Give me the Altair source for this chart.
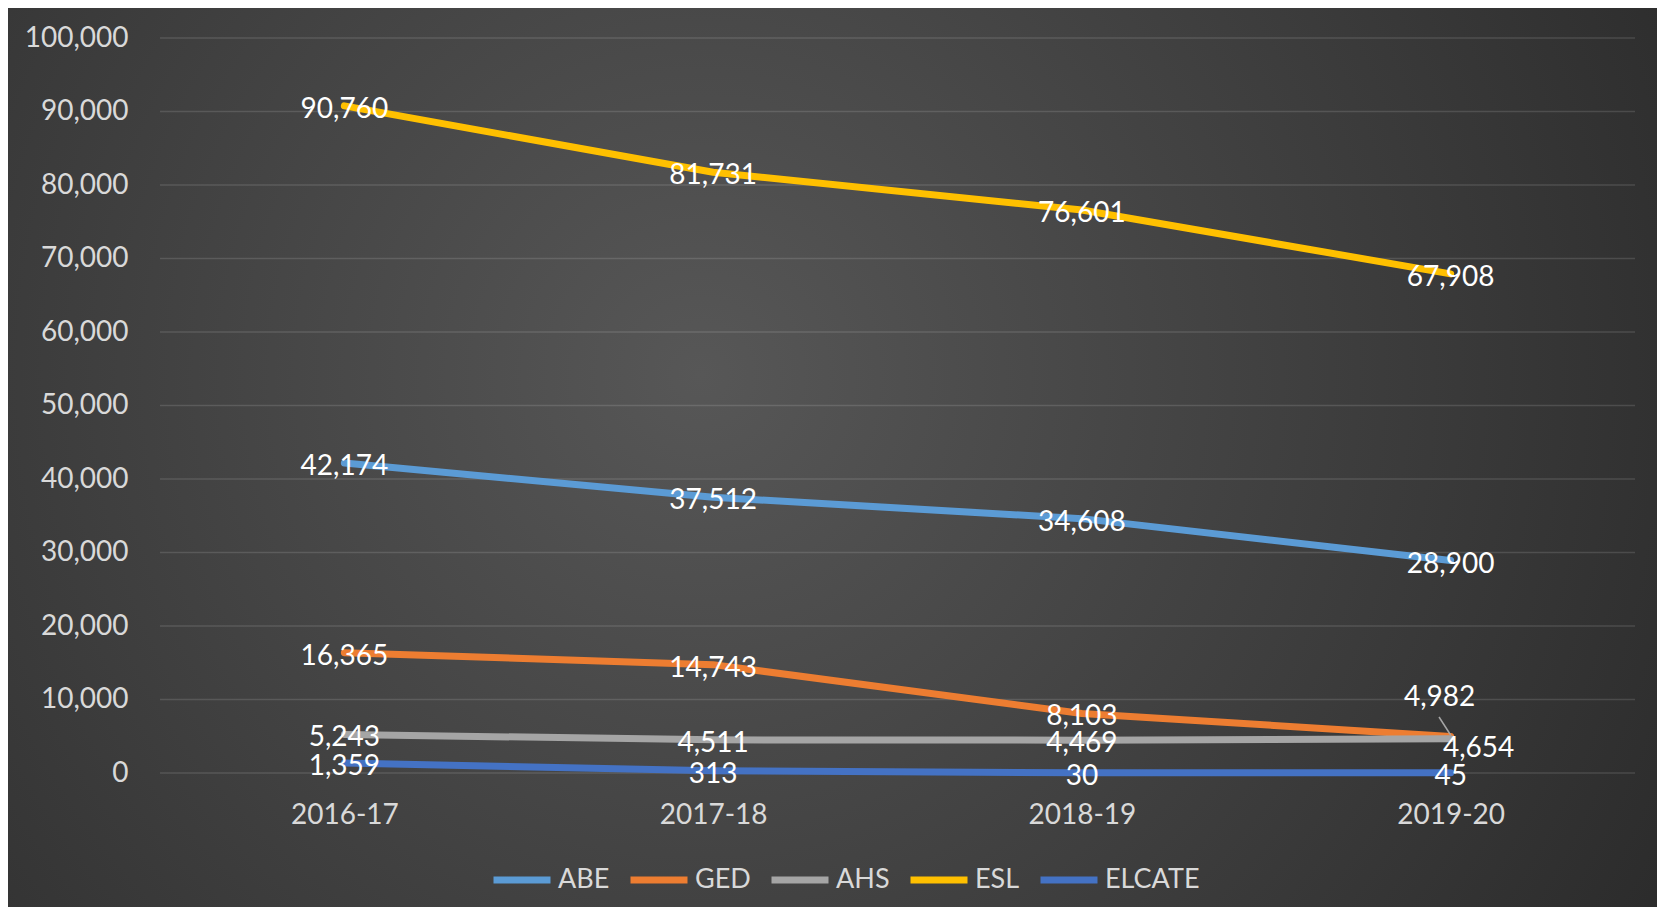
import altair as alt
import pandas as pd

years = ["2016-17", "2017-18", "2018-19", "2019-20"]
series = ["ABE", "GED", "AHS", "ESL", "ELCATE"]
abe = [42174, 37512, 34608, 28900]
ged = [16365, 14743, 8103, 4982]
ahs = [5243, 4511, 4469, 4654]
esl = [90760, 81731, 76601, 67908]
elcate = [1359, 313, 30, 45]
colors = ["#5B9BD5", "#ED7D31", "#A5A5A5", "#FFC000", "#4472C4"]
y_ticks = list(range(0, 100001, 10000))

rows = []
for name, vals in zip(series, [abe, ged, ahs, esl, elcate]):
    for yr, v in zip(years, vals):
        rows.append({"year": yr, "series": name, "value": v, "order": series.index(name)})
df = pd.DataFrame(rows)

W, H = 1475, 735
PL, PT, PR, PB = 152, 30, 22, 134

y_scale = alt.Scale(domain=[0, 100000], nice=False)
y_axis = alt.Axis(title=None, values=y_ticks, labelExpr="format(datum.value, ',')",
                  domain=False, ticks=False,
                  labelColor="#d9d9d9", labelFont="Lato", labelFontSize=28,
                  labelPadding=32, grid=False, zindex=1)
x_enc = alt.X("year:O", sort=years, scale=alt.Scale(padding=0.5),
              axis=alt.Axis(title=None, labelAngle=0, domain=False, ticks=False,
                            labelColor="#d9d9d9", labelFont="Lato", labelFontSize=28,
                            labelPadding=28, grid=False, zindex=1))
y_enc = alt.Y("value:Q", scale=y_scale, axis=y_axis)

bg = alt.Chart(pd.DataFrame({"a": [0]})).mark_rect(
    color=alt.RadialGradient(
        gradient="radial",
        stops=[alt.GradientStop(offset=0, color="#575757"),
               alt.GradientStop(offset=1, color="#262626")],
        x1=0.42, y1=0.45, r1=0, x2=0.42, y2=0.45, r2=0.75),
).encode(x=alt.value(-PL), x2=alt.value(W + PR), y=alt.value(-PT), y2=alt.value(H + PB))

grid = alt.Chart(pd.DataFrame({"tick": y_ticks})).mark_rule(
    color="#ffffff", opacity=0.13, strokeWidth=1.5
).encode(y=alt.Y("tick:Q", scale=y_scale, axis=y_axis),
         x=alt.value(0), x2=alt.value(W))

lines = alt.Chart(df).mark_line(strokeWidth=7, strokeCap="round", strokeJoin="round").encode(
    x=x_enc, y=y_enc,
    color=alt.Color("series:N", scale=alt.Scale(domain=series, range=colors),
                    legend=alt.Legend(title=None, orient="none", direction="horizontal",
                                      legendX=330, legendY=810,
                                      symbolType="stroke", symbolStrokeWidth=7,
                                      symbolSize=3249, labelFont="Lato", labelFontSize=27,
                                      labelColor="#d9d9d9", labelOffset=4,
                                      columnPadding=6, zindex=1)),
    detail="series:N",
    order=alt.Order("order:Q"),
)

special = "(datum.year == '2019-20' && (datum.series == 'GED' || datum.series == 'AHS'))"

labels = alt.Chart(df).transform_filter("!" + special).mark_text(
    font="Lato", fontSize=28, color="#ffffff", baseline="middle", align="center", dy=4
).encode(x=alt.X("year:O", sort=years), y="value:Q", text=alt.Text("value:Q", format=","))

lab_ged = alt.Chart(df).transform_filter(
    "datum.year == '2019-20' && datum.series == 'GED'").mark_text(
    font="Lato", fontSize=28, color="#ffffff", baseline="middle", align="center", dx=-11, dy=-38
).encode(x=alt.X("year:O", sort=years), y="value:Q", text=alt.Text("value:Q", format=","))

lab_ahs = alt.Chart(df).transform_filter(
    "datum.year == '2019-20' && datum.series == 'AHS'").mark_text(
    font="Lato", fontSize=28, color="#ffffff", baseline="middle", align="center", dx=28, dy=10
).encode(x=alt.X("year:O", sort=years), y="value:Q", text=alt.Text("value:Q", format=","))

leader = alt.Chart(df).transform_filter(
    "datum.year == '2019-20' && datum.series == 'GED'").mark_point(
    shape="M-0.58,-0.97L0,-0.07", size=1600, filled=False, stroke="#a6a6a6",
    strokeWidth=1.5, opacity=1
).encode(x=alt.X("year:O", sort=years), y="value:Q")

chart = alt.layer(bg, grid, lines, leader, labels, lab_ged, lab_ahs).properties(
    width=W, height=H,
    autosize=alt.AutoSizeParams(type="none"),
    padding={"left": PL, "top": PT, "right": PR, "bottom": PB},
).configure_view(stroke="transparent").configure(background="#2b2b2b")

chart.save("out.html", embed_options={"renderer": "svg", "actions": False})
